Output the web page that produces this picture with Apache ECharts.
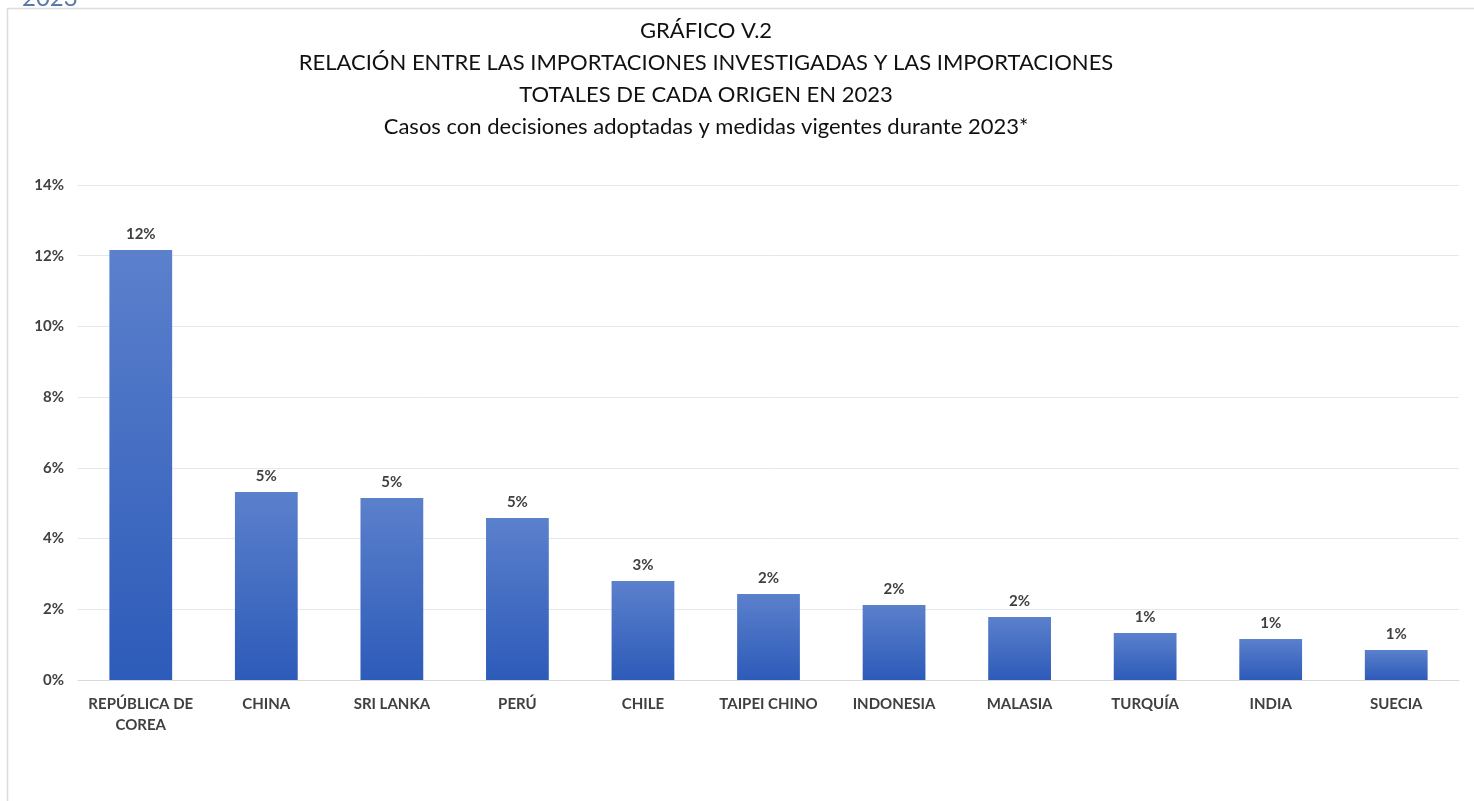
<!DOCTYPE html>
<html>
<head>
<meta charset="utf-8">
<script src="https://cdn.jsdelivr.net/npm/echarts@6/dist/echarts.min.js"></script>
<style>
  html, body { margin: 0; padding: 0; background: #fff; }
  #chart { width: 1474px; height: 801px; }
</style>
</head>
<body>
<div id="chart"></div>
<script>
// data
const countries = ["REPÚBLICA DE\nCOREA", "CHINA", "SRI LANKA", "PERÚ", "CHILE", "TAIPEI CHINO",
  "INDONESIA", "MALASIA", "TURQUÍA", "INDIA", "SUECIA"];
const shares = [12.16, 5.32, 5.15, 4.58, 2.8, 2.43, 2.12, 1.78, 1.33, 1.16, 0.85];
const titleLines = [
  "GRÁFICO V.2",
  "RELACIÓN ENTRE LAS IMPORTACIONES INVESTIGADAS Y LAS IMPORTACIONES",
  "TOTALES DE CADA ORIGEN EN 2023",
  "Casos con decisiones adoptadas y medidas vigentes durante 2023*"
];

const textColor = "#404040";
const font = "Lato";

var chart = echarts.init(document.getElementById("chart"));

chart.setOption({
  animation: false,
  textStyle: { fontFamily: font },
  title: {
    text: titleLines.join("\n"),
    left: 701,
    textAlign: "center",
    top: 10,
    textStyle: {
      fontFamily: font,
      fontSize: 22,
      fontWeight: "normal",
      color: "#111",
      lineHeight: 32,
      align: "center"
    }
  },
  graphic: [
    // frame of the chart box
    {
      type: "rect",
      shape: { x: 7.5, y: 8.5, width: 1475, height: 800 },
      style: { fill: "none", stroke: "#dcdcdc", lineWidth: 1.5 }
    },
    // cut-off heading above the frame
    {
      type: "text",
      left: 22,
      top: -14,
      style: { text: "2023", fill: "#5a78a8", fontSize: 24, fontFamily: font }
    }
  ],
  grid: { left: 78, right: 15, top: 185, bottom: 121, containLabel: false },
  xAxis: {
    type: "category",
    data: countries,
    axisLine: { lineStyle: { color: "#d9d9d9", width: 1 } },
    axisTick: { show: false },
    axisLabel: {
      color: textColor,
      fontWeight: "bold",
      fontSize: 15,
      margin: 14,
      lineHeight: 21,
      interval: 0
    }
  },
  yAxis: {
    type: "value",
    min: 0,
    max: 14,
    interval: 2,
    axisLine: { show: false },
    axisTick: { show: false },
    splitLine: { lineStyle: { color: "#e3e7ee", width: 1 } },
    axisLabel: {
      color: textColor,
      fontWeight: "bold",
      fontSize: 15,
      margin: 14,
      formatter: (v) => v + "%"
    }
  },
  series: [
    {
      type: "bar",
      data: shares,
      barWidth: "50%",
      itemStyle: {
        color: new echarts.graphic.LinearGradient(0, 0, 0, 1, [
          { offset: 0, color: "#5b80cc" },
          { offset: 1, color: "#2d5bb9" }
        ])
      },
      label: {
        show: true,
        position: "top",
        distance: 8,
        color: textColor,
        fontWeight: "bold",
        fontSize: 15,
        formatter: (p) => Math.round(p.value) + "%"
      }
    }
  ]
});
</script>
</body>
</html>
